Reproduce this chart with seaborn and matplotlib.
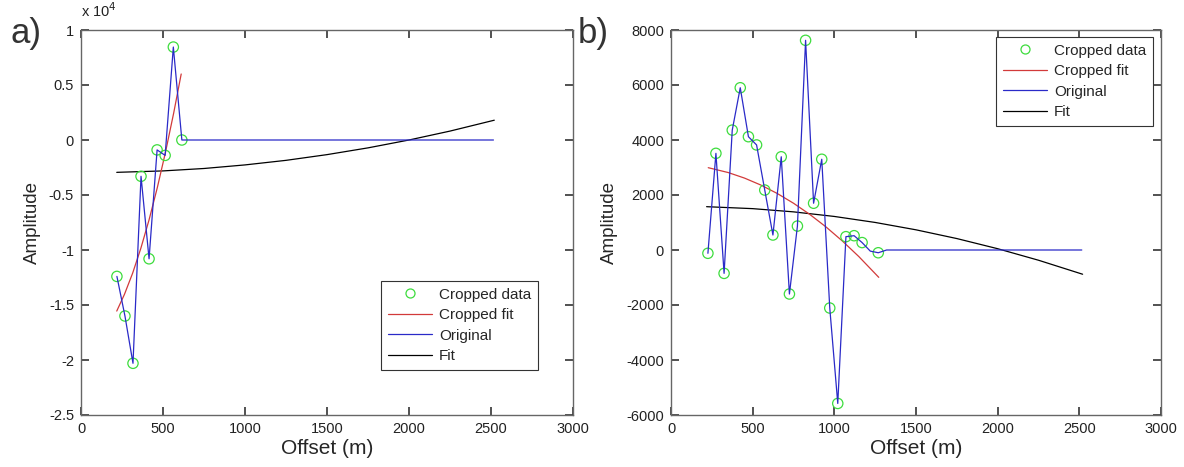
import seaborn as sns
import matplotlib.pyplot as plt
from matplotlib.ticker import FuncFormatter

# panel a)
a_crop_x = [219, 268, 317, 366, 415, 464, 513, 563, 615]
a_crop_y = [-12400, -16000, -20300, -3300, -10800, -900, -1400, 8450, 0]
a_orig_x = a_crop_x + [2515]
a_orig_y = a_crop_y + [0]
a_cfit_x = [218, 265, 315, 365, 415, 465, 515, 565, 611]
a_cfit_y = [-15550, -14030, -12100, -9840, -7260, -4350, -1120, 2440, 6000]
a_fit_x = [218, 500, 750, 1000, 1250, 1500, 1750, 2000, 2250, 2520]
a_fit_y = [-2940, -2810, -2590, -2265, -1850, -1330, -715, 0, 810, 1800]

# panel b)
b_crop_x = [226, 275, 325, 375, 424, 474, 524, 574, 624, 675, 725, 774, 824,
            873, 923, 972, 1021, 1071, 1121, 1170, 1269]
b_crop_y = [-120, 3515, -850, 4360, 5900, 4120, 3820, 2180, 545, 3390, -1600,
            870, 7625, 1700, 3300, -2110, -5580, 485, 520, 270, -100]
b_orig_x = b_crop_x[:20] + [1220] + b_crop_x[20:] + [1320, 2515]
b_orig_y = b_crop_y[:20] + [-40] + b_crop_y[20:] + [0, 0]
b_cfit_x = [228, 350, 450, 550, 650, 750, 850, 950, 1050, 1150, 1272]
b_cfit_y = [2993, 2817, 2615, 2362, 2057, 1701, 1293, 834, 323, -239, -994]
b_fit_x = [218, 500, 750, 1000, 1250, 1500, 1750, 2000, 2250, 2520]
b_fit_y = [1575, 1504, 1387, 1220, 1002, 734, 416, 47, -372, -881]

labels = ['Cropped data', 'Cropped fit', 'Original', 'Fit']
x_ticks = [0, 500, 1000, 1500, 2000, 2500, 3000]

sns.set_style('ticks', {'xtick.direction': 'in', 'ytick.direction': 'in'})
plt.rcParams['font.family'] = ['Liberation Sans', 'DejaVu Sans']

GREEN = '#3ddc3d'
RED = '#d23a3a'
BLUE = '#2a2ac8'
SPINE = '#666666'


def draw_panel(ax, cx, cy, fx, fy, ox, oy, gx, gy):
    sns.lineplot(x=gx, y=gy, ax=ax, color='black', lw=0.9, sort=False, estimator=None)
    sns.lineplot(x=fx, y=fy, ax=ax, color=RED, lw=0.9, sort=False, estimator=None)
    sns.scatterplot(x=cx, y=cy, ax=ax, marker='o', s=55, facecolors='none',
                    edgecolors=GREEN, linewidths=0.9, zorder=3)
    sns.lineplot(x=ox, y=oy, ax=ax, color=BLUE, lw=0.9, sort=False, estimator=None, zorder=4)

    ax.set_xlim(0, 3000)
    ax.set_xticks(x_ticks)
    ax.set_xlabel('Offset (m)', fontsize=15, labelpad=2)
    ax.set_ylabel('Amplitude', fontsize=13.5, labelpad=6)
    for s in ax.spines.values():
        s.set_visible(True)
        s.set_color(SPINE)
        s.set_linewidth(1.0)

    h = [plt.Line2D([], [], ls='', marker='o', mfc='none', mec=GREEN, ms=6.5, mew=0.9),
         plt.Line2D([], [], color=RED, lw=0.9),
         plt.Line2D([], [], color=BLUE, lw=0.9),
         plt.Line2D([], [], color='black', lw=0.9)]
    return h


fig = plt.figure(figsize=(11.84, 4.67), dpi=100)
ax1 = fig.add_axes([81 / 1184, 1 - 415 / 467, 492 / 1184, 385 / 467])
ax2 = fig.add_axes([671 / 1184, 1 - 415 / 467, 490 / 1184, 385 / 467])

leg_kw = dict(borderaxespad=0, fontsize=11, frameon=True, fancybox=False,
              framealpha=1, edgecolor='#333333', handlelength=2.9,
              labelspacing=0.42, borderpad=0.45, handletextpad=0.45)

h = draw_panel(ax1, a_crop_x, a_crop_y, a_cfit_x, a_cfit_y, a_orig_x, a_orig_y, a_fit_x, a_fit_y)
ax1.set_ylim(-25000, 10000)
ax1.set_yticks(range(-25000, 10001, 5000))
ax1.yaxis.set_major_formatter(FuncFormatter(lambda v, p: f'{v / 1e4:g}'))
ax1.text(0.0, 1.025, 'x 10$^4$', transform=ax1.transAxes, fontsize=10.5,
         color='#222222', ha='left', va='bottom')
leg = ax1.legend(h, labels, loc='lower right', bbox_to_anchor=(0.929, 0.117), **leg_kw)
leg.get_frame().set_linewidth(0.8)

h = draw_panel(ax2, b_crop_x, b_crop_y, b_cfit_x, b_cfit_y, b_orig_x, b_orig_y, b_fit_x, b_fit_y)
ax2.set_ylim(-6000, 8000)
ax2.set_yticks(range(-6000, 8001, 2000))
ax2.yaxis.set_major_formatter(FuncFormatter(lambda v, p: f'{v:g}'))
leg = ax2.legend(h, labels, loc='upper right', bbox_to_anchor=(0.984, 0.982), **leg_kw)
leg.get_frame().set_linewidth(0.8)

# ticks last so nothing resets them
for ax in (ax1, ax2):
    ax.tick_params(which='major', direction='in', length=6, width=1.2, color='#333333',
                   labelsize=10.5, labelcolor='#222222', top=True, right=True,
                   bottom=True, left=True, pad=5)

fig.text(10 / 1184, 1 - 33 / 467, 'a)', fontsize=25, color='#333333', ha='left', va='center')
fig.text(578 / 1184, 1 - 33 / 467, 'b)', fontsize=25, color='#333333', ha='left', va='center')

plt.savefig('out.png', dpi=100)
